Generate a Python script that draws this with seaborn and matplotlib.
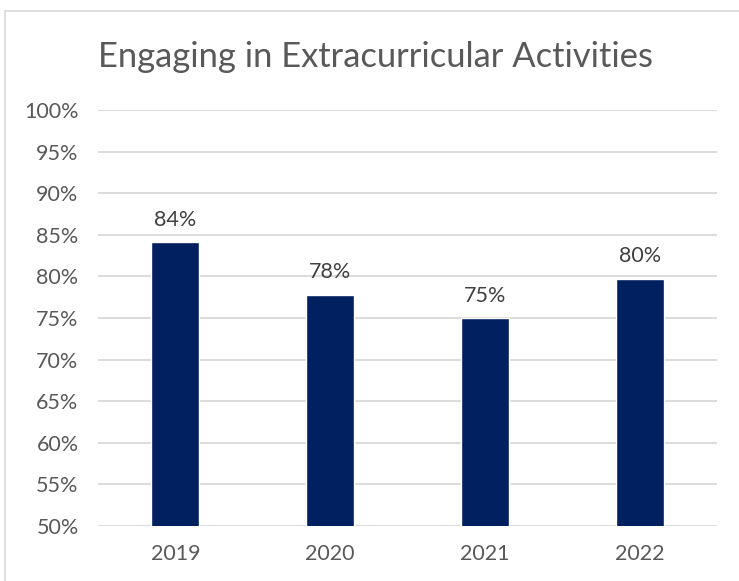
import matplotlib
matplotlib.use("Agg")
import matplotlib.pyplot as plt
import matplotlib.patches as mpatches
import seaborn as sns
import pandas as pd

years = ["2019", "2020", "2021", "2022"]
engaged_pct = [84.1, 77.8, 75.0, 79.7]
y_ticks = [50, 55, 60, 65, 70, 75, 80, 85, 90, 95, 100]

sns.set_theme(style="white")
plt.rcParams["font.family"] = ["Lato", "DejaVu Sans"]

df = pd.DataFrame({"year": years, "pct": engaged_pct})

fig = plt.figure(figsize=(7.39, 5.81), dpi=100)
ax = fig.add_axes([98 / 739, 1 - 526 / 581, 619 / 739, 416 / 581])

# chart frame
fig.patches.append(mpatches.Rectangle((5 / 739, -0.1), 1.2, 1.1 - 11 / 581,
                                      transform=fig.transFigure, fill=False,
                                      edgecolor="#d9d9d9", linewidth=1.2))

sns.barplot(data=df, x="year", y="pct", color="#002060", width=0.31,
            saturation=1, ax=ax, zorder=3)

ax.set_ylim(50, 100)
ax.set_yticks(y_ticks)
ax.set_yticklabels([f"{t}%" for t in y_ticks])
ax.yaxis.grid(True, color="#d9d9d9", linewidth=1.3, zorder=0)
ax.set_axisbelow(True)
for s in ax.spines.values():
    s.set_visible(False)
ax.tick_params(axis="y", length=0, pad=14, labelsize=15.5, labelcolor="#595959")
ax.tick_params(axis="x", length=0, pad=13, labelsize=15.5, labelcolor="#595959")
ax.set_xlabel("")
ax.set_ylabel("")

for i, v in enumerate(engaged_pct):
    ax.annotate(f"{v:.0f}%", (i, v), xytext=(0, 9), textcoords="offset points",
                ha="center", va="bottom", fontsize=15.5, color="#404040")

fig.text(375 / 739, 1 - 57 / 581, "Engaging in Extracurricular Activities",
         ha="center", va="center", fontsize=24.8, color="#595959")

fig.savefig("out.png", dpi=100, facecolor="white")
